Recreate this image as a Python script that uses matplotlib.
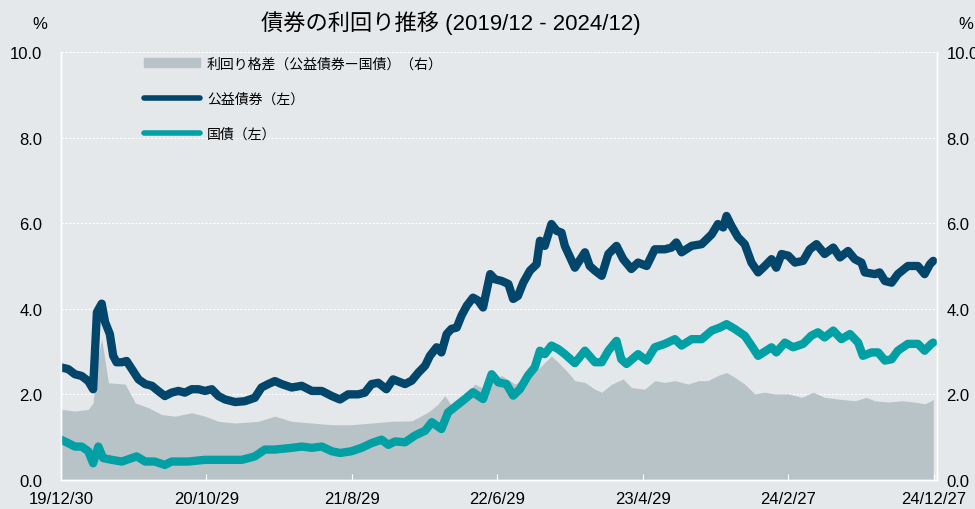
import numpy as np
import pandas as pd
import matplotlib
matplotlib.use("Agg")
import matplotlib.pyplot as plt
from matplotlib.lines import Line2D
from matplotlib.patches import Patch

plt.rcParams['font.family'] = ['Liberation Sans', 'Noto Sans CJK JP', 'DejaVu Sans']

start = pd.Timestamp('2019-12-30')

# days after 2019-12-30, yield (%)
util_days = [0, 15, 29, 43, 57, 67, 71, 75, 85, 92, 102, 109, 116, 127, 137, 148, 162, 176, 190, 203,
             217, 231, 245, 259, 273, 287, 301, 315, 329, 343, 364, 384, 405, 419, 433, 447, 461, 482,
             503, 524, 545, 566, 583, 600, 621, 635, 649, 663, 680, 694, 719, 733, 747, 761, 771, 785,
             795, 806, 816, 827, 837, 848, 861, 872, 882, 897, 907, 921, 935, 945, 955, 966, 980, 994,
             1001, 1011, 1025, 1036, 1046, 1053, 1064, 1074, 1095, 1105, 1116, 1130, 1144, 1161, 1175,
             1192, 1206, 1224, 1241, 1262, 1276, 1286, 1297, 1318, 1339, 1360, 1373, 1384, 1391, 1401,
             1415, 1429, 1443, 1457, 1471, 1485, 1495, 1506, 1520, 1534, 1551, 1565, 1579, 1596, 1614,
             1628, 1645, 1659, 1673, 1680, 1701, 1711, 1722, 1736, 1749, 1770, 1791, 1805, 1816, 1823]
util_yield = [2.63, 2.59, 2.47, 2.43, 2.31, 2.12, 3.02, 3.92, 4.12, 3.69, 3.41, 2.90, 2.75, 2.75, 2.78,
              2.59, 2.35, 2.24, 2.20, 2.08, 1.96, 2.04, 2.08, 2.04, 2.12, 2.12, 2.08, 2.12, 1.96, 1.88,
              1.82, 1.84, 1.92, 2.16, 2.24, 2.31, 2.24, 2.16, 2.20, 2.08, 2.08, 1.96, 1.88, 2.00, 2.00,
              2.04, 2.24, 2.27, 2.12, 2.35, 2.24, 2.32, 2.51, 2.67, 2.90, 3.10, 2.98, 3.41, 3.53, 3.56,
              3.84, 4.07, 4.26, 4.19, 4.03, 4.81, 4.69, 4.65, 4.58, 4.23, 4.30, 4.61, 4.89, 5.04, 5.59,
              5.47, 5.98, 5.82, 5.78, 5.47, 5.20, 4.96, 5.32, 5.00, 4.89, 4.77, 5.28, 5.47, 5.16, 4.93,
              5.08, 5.00, 5.39, 5.39, 5.43, 5.55, 5.32, 5.47, 5.51, 5.74, 5.98, 5.90, 6.17, 5.94, 5.67,
              5.51, 5.08, 4.85, 5.00, 5.16, 4.96, 5.28, 5.24, 5.08, 5.12, 5.39, 5.51, 5.28, 5.43, 5.20,
              5.35, 5.16, 5.08, 4.85, 4.81, 4.85, 4.65, 4.61, 4.81, 5.00, 5.00, 4.81, 5.04, 5.12]

govt_days = [0, 15, 29, 43, 57, 67, 78, 88, 106, 127, 158, 176, 196, 217, 231, 266, 301, 336, 378, 405,
             426, 447, 482, 503, 524, 545, 566, 583, 607, 628, 649, 670, 684, 698, 719, 740, 761, 775,
             795, 809, 827, 844, 861, 882, 900, 914, 931, 945, 959, 976, 990, 1001, 1011, 1025, 1039,
             1053, 1074, 1095, 1116, 1130, 1144, 1161, 1171, 1182, 1206, 1224, 1241, 1262, 1283, 1297,
             1318, 1339, 1360, 1377, 1391, 1408, 1429, 1443, 1457, 1471, 1485, 1495, 1513, 1530, 1551,
             1568, 1582, 1596, 1614, 1631, 1649, 1666, 1676, 1694, 1708, 1722, 1736, 1749, 1770, 1791,
             1805, 1819, 1823]
govt_yield = [0.94, 0.86, 0.78, 0.78, 0.67, 0.39, 0.78, 0.51, 0.47, 0.43, 0.55, 0.43, 0.43, 0.35, 0.43,
              0.43, 0.47, 0.47, 0.47, 0.55, 0.71, 0.71, 0.75, 0.78, 0.75, 0.78, 0.67, 0.63, 0.67, 0.75,
              0.86, 0.94, 0.82, 0.90, 0.88, 1.04, 1.15, 1.35, 1.19, 1.58, 1.74, 1.89, 2.05, 1.89, 2.47,
              2.28, 2.24, 1.97, 2.12, 2.44, 2.63, 3.02, 2.94, 3.14, 3.06, 2.94, 2.73, 3.02, 2.75, 2.75,
              3.02, 3.25, 2.82, 2.71, 2.94, 2.79, 3.10, 3.18, 3.29, 3.14, 3.29, 3.29, 3.49, 3.56, 3.64,
              3.53, 3.37, 3.14, 2.90, 3.00, 3.10, 2.98, 3.21, 3.10, 3.18, 3.37, 3.45, 3.33, 3.49, 3.29,
              3.41, 3.21, 2.90, 2.98, 2.98, 2.79, 2.82, 3.02, 3.18, 3.18, 3.02, 3.18, 3.21]

spread_days = [0, 29, 57, 67, 75, 85, 99, 134, 155, 182, 210, 238, 273, 301, 329, 364, 412, 447, 482,
               524, 566, 607, 649, 691, 733, 767, 788, 802, 816, 837, 865, 886, 907, 921, 949, 976, 997,
               1018, 1025, 1039, 1060, 1074, 1095, 1116, 1130, 1151, 1175, 1192, 1220, 1241, 1262, 1283,
               1311, 1332, 1352, 1373, 1391, 1408, 1429, 1450, 1471, 1492, 1520, 1548, 1572, 1596, 1624,
               1659, 1683, 1701, 1729, 1757, 1784, 1805, 1819, 1823]
spread = [1.65, 1.61, 1.65, 1.80, 2.75, 3.30, 2.27, 2.24, 1.80, 1.69, 1.53, 1.49, 1.57, 1.49, 1.37,
          1.33, 1.37, 1.49, 1.37, 1.33, 1.29, 1.29, 1.33, 1.37, 1.38, 1.58, 1.77, 1.97, 1.74, 1.89, 2.24,
          2.12, 2.36, 2.44, 2.24, 2.40, 2.59, 2.82, 2.90, 2.75, 2.51, 2.32, 2.28, 2.12, 2.05, 2.24, 2.36,
          2.16, 2.12, 2.32, 2.28, 2.32, 2.24, 2.32, 2.32, 2.44, 2.51, 2.40, 2.24, 2.01, 2.05, 2.01, 2.01,
          1.93, 2.05, 1.93, 1.89, 1.85, 1.93, 1.85, 1.82, 1.85, 1.82, 1.78, 1.85, 1.89]

tick_dates = ['2019-12-30', '2020-10-29', '2021-08-29', '2022-06-29', '2023-04-29', '2024-02-27', '2024-12-27']
tick_labels = ['19/12/30', '20/10/29', '21/8/29', '22/6/29', '23/4/29', '24/2/27', '24/12/27']
y_ticks = [0, 2, 4, 6, 8, 10]

bg = '#e5e8eb'
c_dark = '#02466b'
c_teal = '#00a0a4'
c_gray = '#b8c3c7'

util_x = start + pd.to_timedelta(util_days, unit='D')
govt_x = start + pd.to_timedelta(govt_days, unit='D')
spread_x = start + pd.to_timedelta(spread_days, unit='D')

fig = plt.figure(figsize=(9.75, 5.1), dpi=100, facecolor=bg)
ax = fig.add_axes([0.0626, 0.057, 0.898, 0.839])
ax2 = ax.twinx()
ax.set_zorder(ax2.get_zorder() + 1)
ax.patch.set_visible(False)
ax2.set_facecolor(bg)

ax2.fill_between(spread_x, 0, spread, color=c_gray, lw=0, zorder=2)
ax.plot(util_x, util_yield, color=c_dark, lw=6, solid_capstyle='round', solid_joinstyle='round')
ax.plot(govt_x, govt_yield, color=c_teal, lw=6, solid_capstyle='round', solid_joinstyle='round')

xmin, xmax = pd.Timestamp('2019-12-30'), pd.Timestamp('2025-01-02')
for a in (ax, ax2):
    a.set_xlim(xmin, xmax)
    a.set_ylim(0, 10)
    a.set_yticks(y_ticks)
    a.set_yticklabels([f'{v:.1f}' for v in y_ticks])
    for s in a.spines.values():
        s.set_color('white')
        s.set_linewidth(1)
    a.spines['top'].set_visible(False)

ax2.yaxis.grid(True, color='white', ls=(0, (2, 1.5)), lw=0.8)
ax2.set_axisbelow(True)

ax.set_xticks(pd.to_datetime(tick_dates))
ax.set_xticklabels(tick_labels)
ax.tick_params(axis='x', direction='in', length=4, color='white', labelsize=12, pad=8)
ax.tick_params(axis='y', length=0, labelsize=12, pad=13.5)
ax2.tick_params(axis='y', length=0, labelsize=12, pad=7)
ax2.tick_params(axis='x', length=0)

fig.text(0.041, 0.951, '%', fontsize=12, ha='center', va='center')
fig.text(0.991, 0.951, '%', fontsize=12, ha='center', va='center')
fig.text(0.462, 0.955, '債券の利回り推移 (2019/12 - 2024/12)', fontsize=16, ha='center', va='center')

handles = [Patch(color=c_gray), Line2D([], [], color=c_dark, lw=4, solid_capstyle='round'),
           Line2D([], [], color=c_teal, lw=4, solid_capstyle='round')]
labels = ['利回り格差（公益債券ー国債）（右）', '公益債券（左）', '国債（左）']
leg = fig.legend(handles, labels, loc='upper left', bbox_to_anchor=(0.148, 0.887), frameon=False,
                 fontsize=10, handlelength=4.0, handleheight=0.6, handletextpad=0.5,
                 labelspacing=1.5, borderpad=0, borderaxespad=0)

fig.savefig('out.png', dpi=100, facecolor=bg)
